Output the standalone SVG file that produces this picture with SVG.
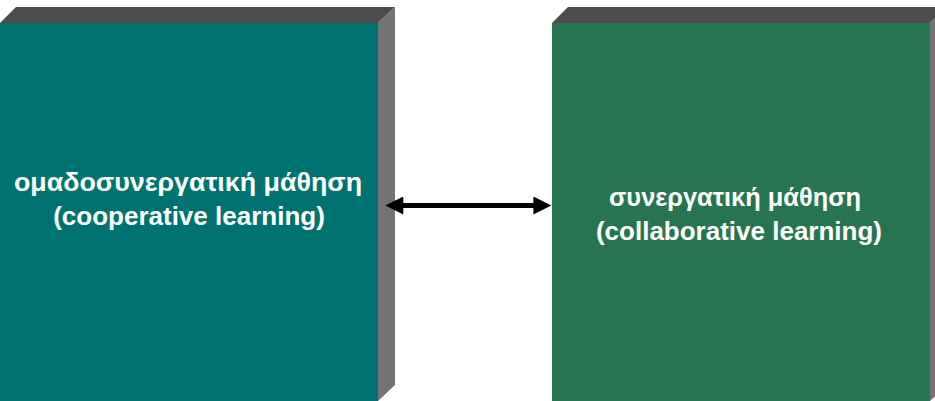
<svg xmlns="http://www.w3.org/2000/svg" width="935" height="401" viewBox="0 0 935 401">
  <style>
    .top { fill: #4d4d4d; }
    .side { fill: #737373; }
    .lbl { font-family: "Liberation Sans", Arial, sans-serif; font-weight: bold; font-size: 26px; fill: #ffffff; text-anchor: middle; }
    .conn { stroke: #000000; stroke-width: 5; fill: none; }
  </style>
  <defs>
    <marker id="ah" viewBox="0 0 10 10" refX="7" refY="5" markerWidth="3.8" markerHeight="3.6" orient="auto-start-reverse" markerUnits="strokeWidth">
      <path d="M0,0 L10,5 L0,10 Z" fill="#000000"/>
    </marker>
  </defs>
  <rect width="935" height="401" fill="#ffffff"/>
  <g id="node-cooperative">
    <polygon class="top" points="0,23 16,7 395,7 378,23"/>
    <polygon class="side" points="378,23 395,7 395,385 378,401"/>
    <rect x="0" y="23" width="378" height="378" fill="#007370"/>
    <text class="lbl" x="188" y="191" textLength="348" lengthAdjust="spacingAndGlyphs">ομαδοσυνεργατική μάθηση</text>
    <text class="lbl" x="189" y="225">(cooperative learning)</text>
  </g>
  <g id="node-collaborative">
    <polygon class="top" points="552,23 568,7 947,7 930,23"/>
    <polygon class="side" points="930,23 947,7 947,385 930,401"/>
    <rect x="552" y="23" width="378" height="378" fill="#277550"/>
    <text class="lbl" x="735" y="206" textLength="252" lengthAdjust="spacingAndGlyphs">συνεργατική μάθηση</text>
    <text class="lbl" x="739" y="240">(collaborative learning)</text>
  </g>
  <g id="connectors">
    <line class="conn" x1="390.7" y1="205.5" x2="546" y2="205.5" marker-start="url(#ah)" marker-end="url(#ah)"/>
  </g>
</svg>
